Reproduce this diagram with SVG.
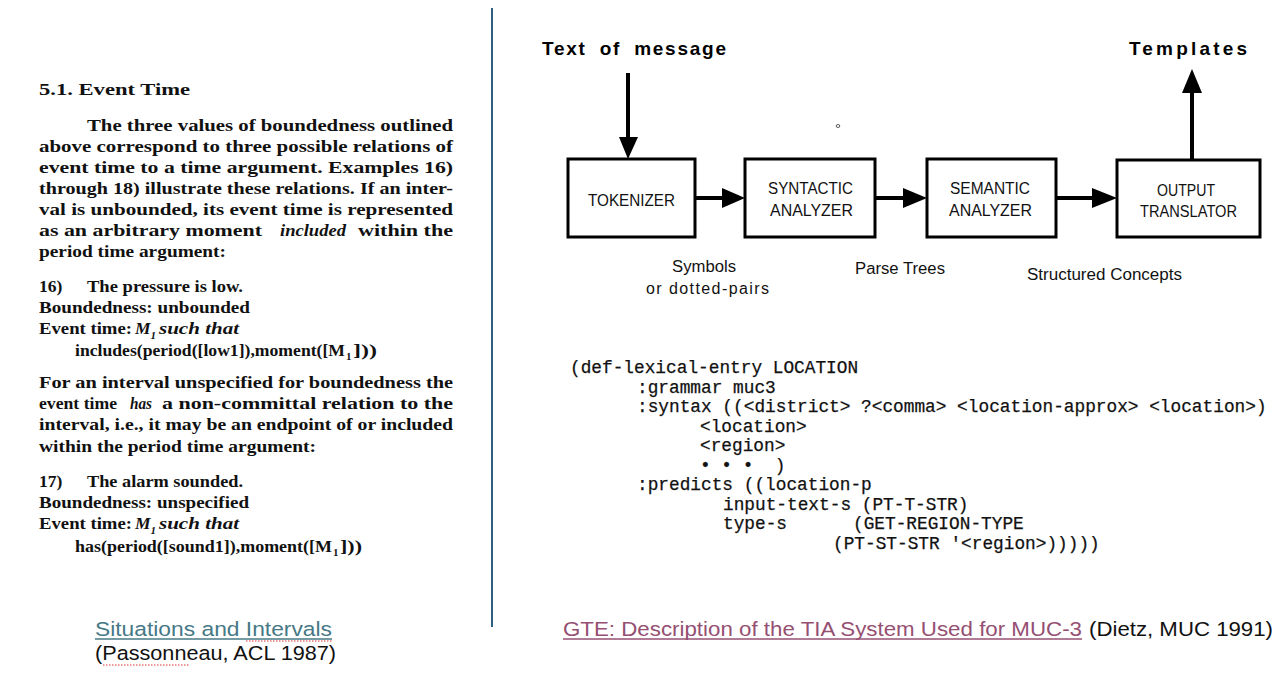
<svg xmlns="http://www.w3.org/2000/svg" width="1287" height="675" viewBox="0 0 1287 675">
<style>
.pt{font-family:"Liberation Serif",serif;font-weight:bold;font-size:17.5px;fill:#111}
.it{font-style:italic}
.sub{font-size:11px}
.hd{font-family:"Liberation Sans",Arial,sans-serif;font-weight:bold;font-size:19px;fill:#000}
.bx{fill:#fff;stroke:#000;stroke-width:3}
.bl{font-family:"Liberation Sans",Arial,sans-serif;font-size:16px;fill:#111}
.lb{font-family:"Liberation Sans",Arial,sans-serif;font-size:16px;fill:#111}
.cd{font-family:"Liberation Mono","Courier New",monospace;font-size:17.8px;fill:#111;stroke:#111;stroke-width:0.25}
.sh{stroke:#000;stroke-width:4;fill:none}
.ah{fill:#000}
.cap{font-family:"Liberation Sans",Arial,sans-serif;font-size:20.5px}
.sp{stroke:#e03030;stroke-width:1;fill:none;stroke-dasharray:1.5 1.5}
</style>
<rect width="1287" height="675" fill="#fff"/>

<g id="paper-excerpt">
<text class="pt" x="39" y="95" textLength="151" lengthAdjust="spacingAndGlyphs">5.1.  Event Time</text>
<text class="pt" x="87" y="131" textLength="366" lengthAdjust="spacingAndGlyphs">The three values of boundedness outlined</text>
<text class="pt" x="39" y="152" textLength="414" lengthAdjust="spacingAndGlyphs">above correspond to three possible relations of</text>
<text class="pt" x="39" y="173" textLength="414" lengthAdjust="spacingAndGlyphs">event time to a time argument.  Examples 16)</text>
<text class="pt" x="39" y="194" textLength="414" lengthAdjust="spacingAndGlyphs">through 18) illustrate these relations.  If an inter-</text>
<text class="pt" x="39" y="215" textLength="414" lengthAdjust="spacingAndGlyphs">val is unbounded, its event time is represented</text>
<text class="pt" x="39" y="236" textLength="223" lengthAdjust="spacingAndGlyphs">as an arbitrary moment</text>
<text class="pt it" x="280" y="236" textLength="66" lengthAdjust="spacingAndGlyphs">included</text>
<text class="pt" x="358" y="236" textLength="95" lengthAdjust="spacingAndGlyphs">within the</text>
<text class="pt" x="39" y="257" textLength="187" lengthAdjust="spacingAndGlyphs">period time argument:</text>

<text class="pt" x="39" y="292">16)</text>
<text class="pt" x="87" y="292" textLength="156" lengthAdjust="spacingAndGlyphs">The pressure is low.</text>
<text class="pt" x="39" y="313" textLength="211" lengthAdjust="spacingAndGlyphs">Boundedness: unbounded</text>
<text class="pt" x="39" y="334" textLength="93" lengthAdjust="spacingAndGlyphs">Event time:</text>
<text class="pt it" x="135" y="334">M<tspan class="sub" dx="0" dy="5">1</tspan></text>
<text class="pt it" x="159" y="334" textLength="80" lengthAdjust="spacingAndGlyphs">such that</text>
<text class="pt" x="75" y="356" textLength="270" lengthAdjust="spacingAndGlyphs">includes(period([low1]),moment([M</text>
<text class="pt sub" x="346" y="360">1</text>
<text class="pt" x="353" y="356" textLength="24" lengthAdjust="spacingAndGlyphs">]))</text>

<text class="pt" x="39" y="388" textLength="414" lengthAdjust="spacingAndGlyphs">For an interval unspecified for boundedness the</text>
<text class="pt" x="39" y="409" textLength="78" lengthAdjust="spacingAndGlyphs">event time</text>
<text class="pt it" x="130" y="409" textLength="22" lengthAdjust="spacingAndGlyphs">has</text>
<text class="pt" x="162" y="409" textLength="291" lengthAdjust="spacingAndGlyphs">a non-committal relation to the</text>
<text class="pt" x="39" y="430" textLength="414" lengthAdjust="spacingAndGlyphs">interval, i.e., it may be an endpoint of or included</text>
<text class="pt" x="39" y="452" textLength="277" lengthAdjust="spacingAndGlyphs">within the period time argument:</text>

<text class="pt" x="39" y="487">17)</text>
<text class="pt" x="87" y="487" textLength="156" lengthAdjust="spacingAndGlyphs">The alarm sounded.</text>
<text class="pt" x="39" y="508" textLength="210" lengthAdjust="spacingAndGlyphs">Boundedness: unspecified</text>
<text class="pt" x="39" y="529" textLength="93" lengthAdjust="spacingAndGlyphs">Event time:</text>
<text class="pt it" x="135" y="529">M<tspan class="sub" dx="0" dy="5">1</tspan></text>
<text class="pt it" x="159" y="529" textLength="80" lengthAdjust="spacingAndGlyphs">such that</text>
<text class="pt" x="75" y="552" textLength="257" lengthAdjust="spacingAndGlyphs">has(period([sound1]),moment([M</text>
<text class="pt sub" x="333" y="556">1</text>
<text class="pt" x="340" y="552" textLength="22" lengthAdjust="spacingAndGlyphs">]))</text>
</g>

<g id="divider">
<line x1="492" y1="8" x2="492" y2="627" stroke="#2e5f80" stroke-width="2"/>
</g>

<g id="input-label">
<text class="hd" x="542" y="55" textLength="184" lengthAdjust="spacing" word-spacing="6">Text of message</text>
</g>
<g id="output-label">
<text class="hd" x="1129" y="55" textLength="118" lengthAdjust="spacing">Templates</text>
</g>

<g id="tokenizer">
<rect class="bx" x="568" y="159" width="127" height="78"/>
<text class="bl" x="588" y="206" textLength="87" lengthAdjust="spacingAndGlyphs">TOKENIZER</text>
</g>
<g id="syntactic-analyzer">
<rect class="bx" x="745" y="159" width="130" height="78"/>
<text class="bl" x="768" y="194" textLength="85" lengthAdjust="spacingAndGlyphs">SYNTACTIC</text>
<text class="bl" x="770" y="216" textLength="83" lengthAdjust="spacingAndGlyphs">ANALYZER</text>
</g>
<g id="semantic-analyzer">
<rect class="bx" x="927" y="159" width="129" height="78"/>
<text class="bl" x="950" y="194" textLength="80" lengthAdjust="spacingAndGlyphs">SEMANTIC</text>
<text class="bl" x="949" y="216" textLength="83" lengthAdjust="spacingAndGlyphs">ANALYZER</text>
</g>
<g id="output-translator">
<rect class="bx" x="1117" y="160" width="143" height="77"/>
<text class="bl" x="1157" y="196" textLength="58" lengthAdjust="spacingAndGlyphs">OUTPUT</text>
<text class="bl" x="1140" y="217" textLength="97" lengthAdjust="spacingAndGlyphs">TRANSLATOR</text>
</g>

<g id="connectors">
<line class="sh" x1="628" y1="73" x2="628" y2="140"/>
<polygon class="ah" points="619,137 638,137 628,159"/>
<line class="sh" x1="695" y1="198" x2="724" y2="198"/>
<polygon class="ah" points="722,188 722,208 745,198"/>
<line class="sh" x1="875" y1="198" x2="905" y2="198"/>
<polygon class="ah" points="903,188 903,208 927,198"/>
<line class="sh" x1="1056" y1="198" x2="1094" y2="198"/>
<polygon class="ah" points="1092,188 1092,208 1117,198"/>
<line class="sh" x1="1192" y1="160" x2="1192" y2="91"/>
<polygon class="ah" points="1182,93 1202,93 1192,69"/>
</g>

<g id="edge-labels">
<text class="lb" x="672" y="272" textLength="64" lengthAdjust="spacingAndGlyphs">Symbols</text>
<text class="lb" x="646" y="294" textLength="123" lengthAdjust="spacing">or   dotted-pairs</text>
<text class="lb" x="855" y="274" textLength="90" lengthAdjust="spacingAndGlyphs">Parse Trees</text>
<text class="lb" x="1027" y="280" textLength="155" lengthAdjust="spacingAndGlyphs">Structured Concepts</text>
<ellipse cx="838" cy="126" rx="1.8" ry="1.5" fill="none" stroke="#333" stroke-width="0.8"/>
</g>

<g id="code-sample">
<text class="cd" x="570" y="373">(def-lexical-entry LOCATION</text>
<text class="cd" x="637" y="393">:grammar muc3</text>
<text class="cd" x="637" y="412">:syntax ((&lt;district&gt; ?&lt;comma&gt; &lt;location-approx&gt; &lt;location&gt;)</text>
<text class="cd" x="700" y="432">&lt;location&gt;</text>
<text class="cd" x="700" y="451">&lt;region&gt;</text>
<text class="cd" x="700" y="471" xml:space="preserve">• • •  )</text>
<text class="cd" x="637" y="490">:predicts ((location-p</text>
<text class="cd" x="723" y="510">input-text-s (PT-T-STR)</text>
<text class="cd" x="723" y="529">type-s</text>
<text class="cd" x="853" y="529">(GET-REGION-TYPE</text>
<text class="cd" x="833" y="549">(PT-ST-STR '&lt;region&gt;)))))</text>
</g>

<g id="caption-left">
<text class="cap" x="95" y="636" fill="#467886" textLength="237" lengthAdjust="spacingAndGlyphs">Situations and Intervals</text>
<line x1="95" y1="639" x2="332" y2="639" stroke="#467886" stroke-width="1.5"/>
<path class="sp" d="M246,641 H332"/>
<text class="cap" x="95" y="660" fill="#111" textLength="241" lengthAdjust="spacingAndGlyphs">(Passonneau, ACL 1987)</text>
<path class="sp" d="M103,665 H190"/>
</g>
<g id="caption-right">
<text class="cap" x="563" y="636" fill="#954f72" textLength="519" lengthAdjust="spacingAndGlyphs">GTE: Description of the TIA System Used for MUC-3</text>
<line x1="563" y1="639" x2="1082" y2="639" stroke="#954f72" stroke-width="1.5"/>
<text class="cap" x="1089" y="636" fill="#111" textLength="184" lengthAdjust="spacingAndGlyphs">(Dietz, MUC 1991)</text>
</g>
</svg>
